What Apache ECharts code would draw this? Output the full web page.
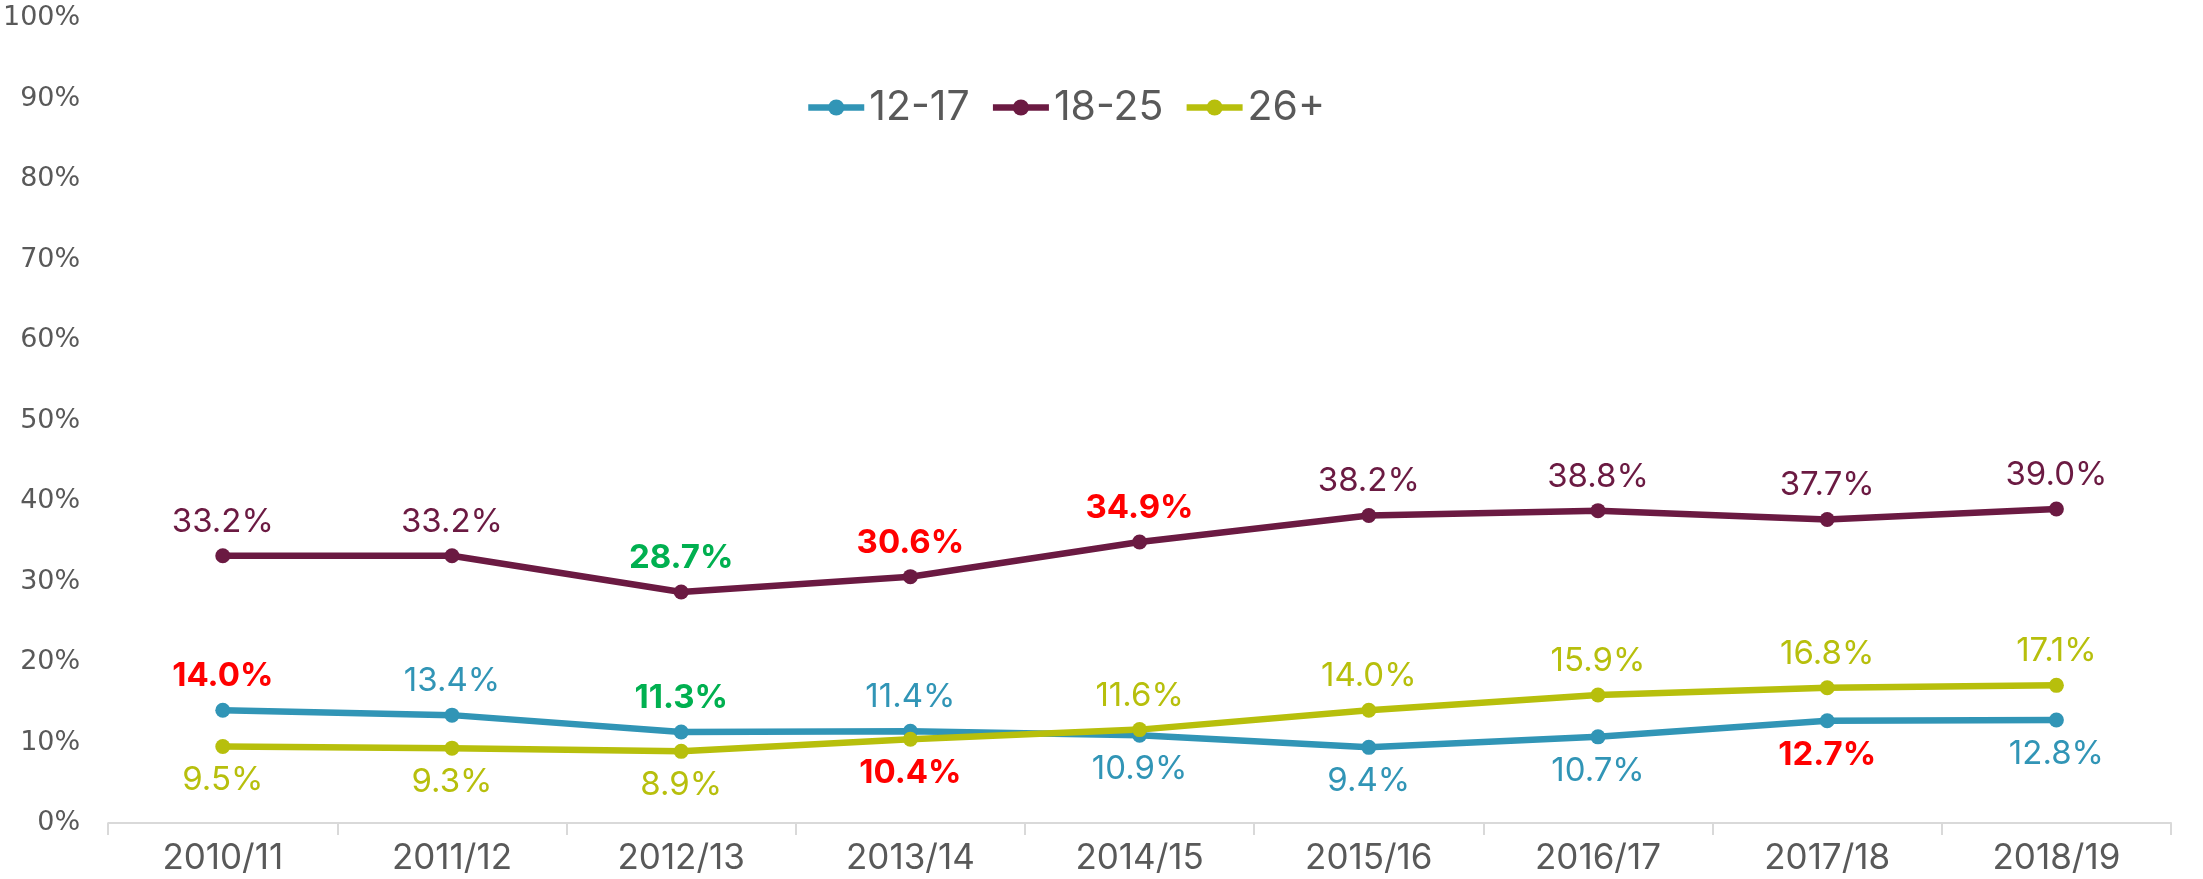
<!DOCTYPE html>
<html>
<head>
<meta charset="utf-8">
<script src="https://cdn.jsdelivr.net/npm/echarts@6/dist/echarts.min.js"></script>
<style>
  html, body { margin: 0; padding: 0; background: #fff; }
  #main { width: 2203px; height: 879px; }
</style>
</head>
<body>
<div id="main"></div>
<script>
const years = ['2010/11', '2011/12', '2012/13', '2013/14', '2014/15', '2015/16', '2016/17', '2017/18', '2018/19']
const yTicks = [0, 10, 20, 30, 40, 50, 60, 70, 80, 90, 100]

const age1217 = [14.0, 13.4, 11.3, 11.4, 10.9, 9.4, 10.7, 12.7, 12.8]
const age1825 = [33.2, 33.2, 28.7, 30.6, 34.9, 38.2, 38.8, 37.7, 39.0]
const age26 = [9.5, 9.3, 8.9, 10.4, 11.6, 14.0, 15.9, 16.8, 17.1]

// where each label sits, and which ones are highlighted (r = red, g = green)
const pos1217 = ['top', 'top', 'top', 'top', 'bottom', 'bottom', 'bottom', 'bottom', 'bottom']
const pos1825 = ['top', 'top', 'top', 'top', 'top', 'top', 'top', 'top', 'top']
const pos26 = ['bottom', 'bottom', 'bottom', 'bottom', 'top', 'top', 'top', 'top', 'top']
const mark1217 = ['r', '', 'g', '', '', '', '', 'r', '']
const mark1825 = ['', '', 'g', 'r', 'r', '', '', '', '']
const mark26 = ['', '', '', 'r', '', '', '', '', '']

const FONT = 'Inter, "Liberation Sans", sans-serif'

function buildSeries(name, color, values, positions, marks) {
  return {
    name: name,
    type: 'line',
    symbol: 'circle',
    symbolSize: 15,
    lineStyle: { width: 6.5, color: color },
    itemStyle: { color: color },
    data: values.map((v, i) => {
      const m = marks[i]
      return {
        value: v,
        label: {
          show: true,
          position: positions[i],
          distance: 10,
          formatter: v.toFixed(1) + '%',
          fontFamily: FONT,
          fontSize: 33,
          fontWeight: m ? 'bold' : 'normal',
          color: m === 'r' ? '#FF0000' : (m === 'g' ? '#00B050' : color)
        }
      }
    })
  }
}

const chart = echarts.init(document.getElementById('main'))
chart.setOption({
  animation: false,
  grid: { left: 108, right: 32, top: 18, bottom: 56 },
  legend: {
    left: 800,
    top: 82,
    itemWidth: 56,
    itemHeight: 20,
    itemGap: 20,
    lineStyle: { width: 6.5 },
    textStyle: { fontFamily: FONT, fontSize: 41, color: '#595959' },
    data: ['12-17', '18-25', '26+']
  },
  xAxis: {
    type: 'category',
    data: years,
    boundaryGap: true,
    axisLine: { lineStyle: { color: '#D9D9D9', width: 2 } },
    axisTick: { show: true, length: 12, lineStyle: { color: '#D9D9D9', width: 2 } },
    axisLabel: { fontFamily: FONT, fontSize: 35, color: '#595959', margin: 18 }
  },
  yAxis: {
    type: 'value',
    min: yTicks[0],
    max: yTicks[yTicks.length - 1],
    interval: 10,
    axisLine: { show: false },
    axisTick: { show: false },
    splitLine: { show: false },
    axisLabel: { formatter: '{value}%', fontFamily: 'DejaVu Sans', fontSize: 27, color: '#595959', margin: 28 }
  },
  series: [
    buildSeries('12-17', '#3195B6', age1217, pos1217, mark1217),
    buildSeries('18-25', '#6B1A42', age1825, pos1825, mark1825),
    buildSeries('26+', '#B7BF0C', age26, pos26, mark26)
  ]
})
</script>
</body>
</html>
